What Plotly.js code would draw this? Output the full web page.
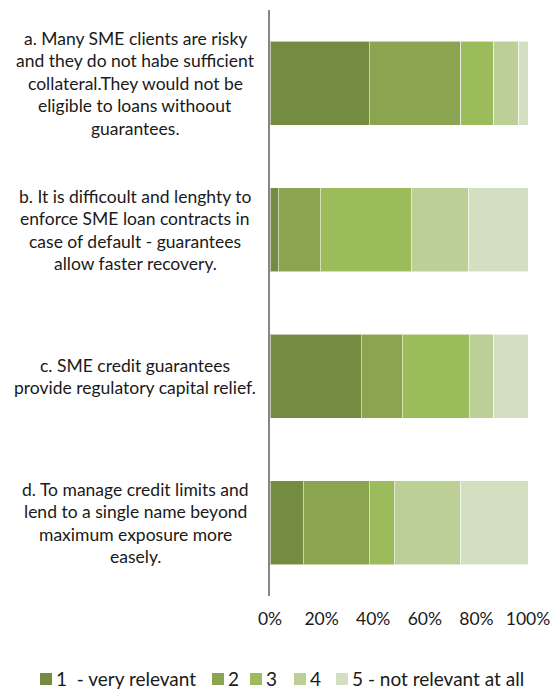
<!DOCTYPE html>
<html>
<head>
<meta charset="utf-8">
<script src="https://cdn.plot.ly/plotly-3.0.1.min.js"></script>
<style>html,body{margin:0;padding:0;background:#fff;}#chart{width:556px;height:690px;}</style>
</head>
<body>
<div id="chart"></div>
<script>
var categories = [
  "a. Many SME clients are risky<br>and they do not habe sufficient<br>collateral.They would not be<br>eligible to loans withoout<br>guarantees.",
  "b. It is difficoult and lenghty to<br>enforce SME loan contracts in<br>case of default - guarantees<br>allow faster recovery.",
  "c. SME credit guarantees<br>provide regulatory capital relief.",
  "d. To manage credit limits and<br>lend to a single name beyond<br>maximum exposure more<br>easely."
];
var seriesNames = ["1\u00a0\u00a0- very relevant", "2", "3", "4", "5 - not relevant at all"];
var s1 = [38.4, 3.2, 35.3, 12.9];
var s2 = [35.6, 16.2, 16.0, 25.5];
var s3 = [12.8, 35.3, 26.0, 9.7];
var s4 = [9.7, 22.4, 9.5, 25.9];
var s5 = [3.5, 22.9, 13.2, 26.0];
var tickVals = [0, 20, 40, 60, 80, 100];
var tickText = ["0%", "20%", "40%", "60%", "80%", "100%"];

var colors = ["#748c41", "#8aa44f", "#9cbb5a", "#bbcf97", "#d2dfc0"];
var series = [s1, s2, s3, s4, s5];
var catKeys = categories.map(function (c, i) { return "c" + i; });

var traces = series.map(function (vals, i) {
  return {
    type: "bar",
    orientation: "h",
    name: seriesNames[i],
    y: catKeys,
    x: vals,
    width: 0.573,
    marker: { color: colors[i], line: { color: "rgba(255,255,255,0.55)", width: 1 } },
    hoverinfo: "x+name",
    showlegend: false
  };
});

var FONT = "Lato, 'Open Sans', sans-serif";
var TXT = "#1a1a1a";
var annotations = [];
categories.forEach(function (c, i) {
  var lines = c.split("<br>");
  var n = lines.length;
  lines.forEach(function (ln, j) {
    annotations.push({
      xref: "paper", yref: "y",
      x: -0.523, y: catKeys[i],
      xanchor: "center", yanchor: "middle",
      text: ln, showarrow: false,
      yshift: -((j - (n - 1) / 2) * 22.5),
      font: { family: FONT, size: 17.5, color: TXT }
    });
  });
});

// custom legend (layout positions in pixels of the 556x690 page)
var legendLeft = [40, 212, 250, 294, 336];
var legendY = 678;
var shapes = [];
seriesNames.forEach(function (nm, i) {
  var x0 = legendLeft[i];
  shapes.push({
    type: "rect", xref: "paper", yref: "paper",
    x0: (x0 - 270) / 258, x1: (x0 + 12 - 270) / 258,
    y0: (596 - (legendY + 7)) / 586, y1: (596 - (legendY - 5)) / 586,
    fillcolor: colors[i], line: { width: 0 }
  });
  annotations.push({
    xref: "paper", yref: "paper",
    x: (x0 + 14 - 270) / 258, y: (596 - legendY) / 586,
    xanchor: "left", yanchor: "middle",
    text: nm, showarrow: false,
    font: { family: FONT, size: 19, color: TXT }
  });
});

var layout = {
  width: 556, height: 690,
  margin: { l: 270, r: 28, t: 10, b: 94 },
  barmode: "stack",
  paper_bgcolor: "#fff", plot_bgcolor: "#fff",
  showlegend: false,
  font: { family: FONT, size: 17.5, color: TXT },
  xaxis: {
    range: [0, 100], tickvals: tickVals, ticktext: tickText,
    showgrid: false, zeroline: false, showline: false, ticks: "",
    tickfont: { family: FONT, size: 17.5, color: TXT },
    ticklabelstandoff: 10,
    fixedrange: true
  },
  yaxis: {
    type: "category", categoryorder: "array", categoryarray: catKeys,
    autorange: "reversed", showticklabels: false, ticks: "",
    showgrid: false, zeroline: false,
    showline: true, linecolor: "#868686", linewidth: 2,
    fixedrange: true
  },
  shapes: shapes,
  annotations: annotations
};

Plotly.newPlot("chart", traces, layout, { displayModeBar: false, staticPlot: true });
</script>
</body>
</html>
